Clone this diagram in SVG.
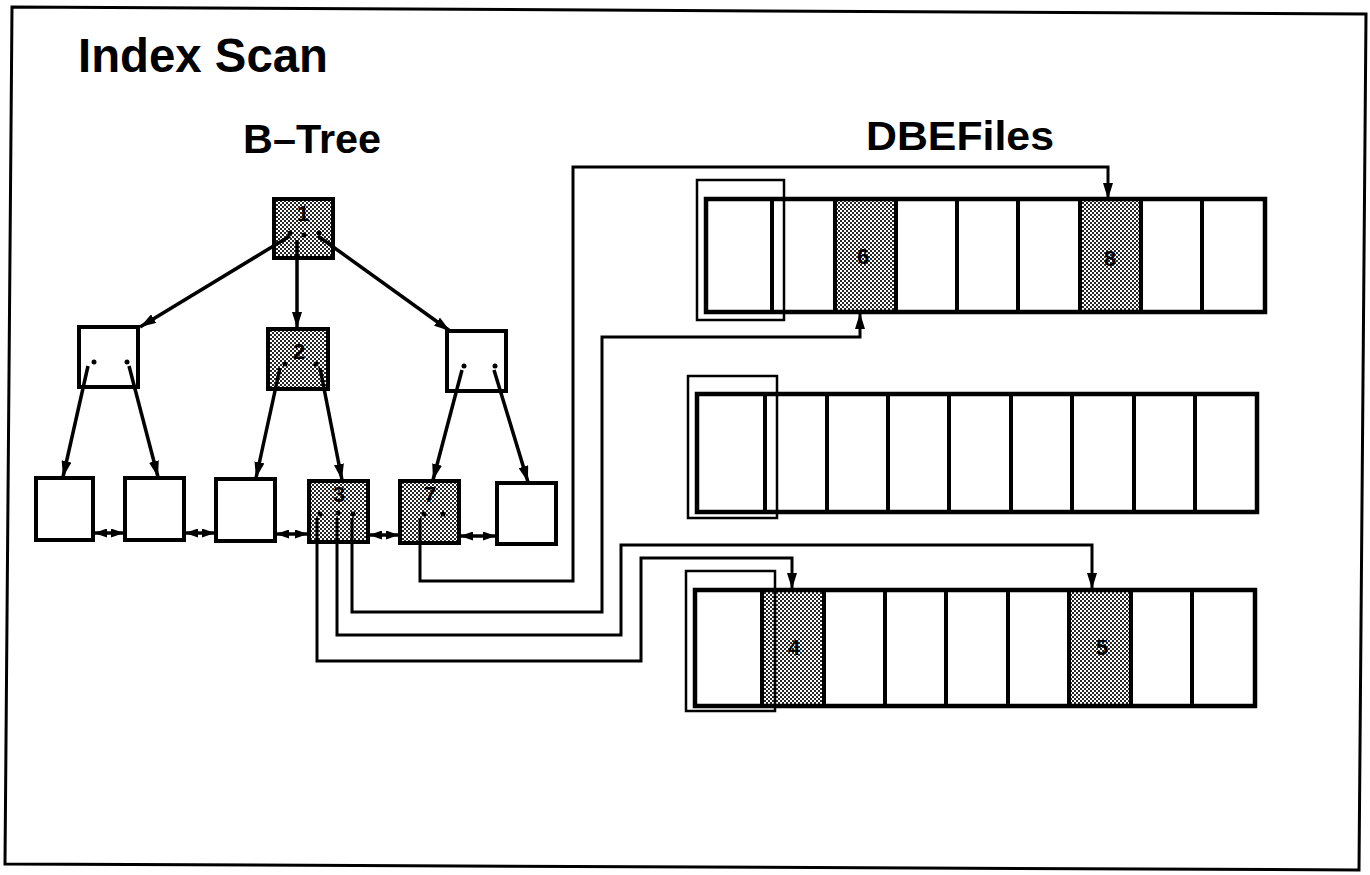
<svg xmlns="http://www.w3.org/2000/svg" width="1370" height="875" viewBox="0 0 1370 875">
<defs>
<pattern id="stip" width="4" height="4" patternUnits="userSpaceOnUse">
<rect width="4" height="4" fill="#ffffff"/>
<rect x="0" y="0" width="2" height="2" fill="#262626"/>
<rect x="2" y="2" width="2" height="2" fill="#262626"/>
</pattern>
<marker id="ah" viewBox="0 0 16 10" markerWidth="16" markerHeight="10" refX="16" refY="5" orient="auto-start-reverse" markerUnits="userSpaceOnUse">
<path d="M0,0 L16,5 L0,10 z" fill="#000"/>
</marker>
<marker id="ah2" viewBox="0 0 13 9" markerWidth="13" markerHeight="9" refX="13" refY="4.5" orient="auto-start-reverse" markerUnits="userSpaceOnUse">
<path d="M0,0 L13,4.5 L0,9 z" fill="#000"/>
</marker>
</defs>
<style>
.title{font-family:"Liberation Sans",Arial,sans-serif;font-weight:bold;fill:#000}
.lbl{font-family:"Liberation Sans",Arial,sans-serif;font-weight:bold;font-size:22px;fill:#000;text-anchor:middle}
.node{stroke:#000;stroke-width:4;fill:#fff}
.shade{fill:url(#stip)}
.thick{stroke:#000;stroke-width:4.5;fill:none}
.thin{stroke:#000;stroke-width:2.5;fill:none}
.div{stroke:#000;stroke-width:4}
.edge{stroke:#000;stroke-width:3.5;fill:none}
.wire{stroke:#000;stroke-width:3;fill:none}
.dot{fill:#000}
</style>
<rect width="1370" height="875" fill="#fff"/>
<polygon points="12,7 1366,14 1359,870 5,864" fill="none" stroke="#000" stroke-width="3"/>

<text class="title" x="78" y="72" font-size="48" textLength="250" lengthAdjust="spacingAndGlyphs">Index Scan</text>
<text class="title" x="243" y="153" font-size="40" textLength="138" lengthAdjust="spacingAndGlyphs">B–Tree</text>
<text class="title" x="866" y="150" font-size="40" textLength="188" lengthAdjust="spacingAndGlyphs">DBEFiles</text>

<g id="btree">
<g id="n1">
<rect class="node shade" x="274" y="199" width="59" height="59"/>
<text class="lbl" x="303" y="221">1</text>
<circle class="dot" cx="290" cy="233" r="2.5"/><circle class="dot" cx="304" cy="235" r="2.5"/><circle class="dot" cx="319" cy="233" r="2.5"/>
</g>
<g id="n2l">
<rect class="node" x="79" y="327" width="59" height="60"/>
<circle class="dot" cx="94" cy="362" r="2.5"/><circle class="dot" cx="127" cy="362" r="2.5"/>
</g>
<g id="n2">
<rect class="node shade" x="268" y="329" width="60" height="60"/>
<text class="lbl" x="299" y="359">2</text>
<circle class="dot" cx="285" cy="364" r="2.5"/><circle class="dot" cx="316" cy="364" r="2.5"/>
</g>
<g id="n2r">
<rect class="node" x="447" y="331" width="59" height="60"/>
<circle class="dot" cx="464" cy="366" r="2.5"/><circle class="dot" cx="495" cy="366" r="2.5"/>
</g>
<g id="leaf1"><rect class="node" x="36" y="478" width="57" height="62"/></g>
<g id="leaf2"><rect class="node" x="125" y="478" width="59" height="62"/></g>
<g id="leaf3"><rect class="node" x="216" y="479" width="59" height="62"/></g>
<g id="leaf4">
<rect class="node shade" x="309" y="481" width="59" height="61"/>
<text class="lbl" x="339" y="502">3</text>
<circle class="dot" cx="320" cy="514" r="2.5"/><circle class="dot" cx="338" cy="513" r="2.5"/><circle class="dot" cx="353" cy="514" r="2.5"/>
</g>
<g id="leaf5">
<rect class="node shade" x="400" y="481" width="59" height="62"/>
<text class="lbl" x="430" y="502">7</text>
<circle class="dot" cx="424" cy="514" r="2.5"/><circle class="dot" cx="443" cy="514" r="2.5"/>
</g>
<g id="leaf6"><rect class="node" x="497" y="483" width="59" height="61"/></g>
</g>

<g id="files">
<g id="file1">
<rect x="835" y="199" width="61" height="113" class="shade"/>
<rect x="1080" y="199" width="61" height="113" class="shade"/>
<rect class="thick" x="706" y="199" width="559" height="113"/>
<line class="div" x1="772" y1="199" x2="772" y2="312"/>
<line class="div" x1="835" y1="199" x2="835" y2="312"/>
<line class="div" x1="896" y1="199" x2="896" y2="312"/>
<line class="div" x1="957" y1="199" x2="957" y2="312"/>
<line class="div" x1="1018" y1="199" x2="1018" y2="312"/>
<line class="div" x1="1080" y1="199" x2="1080" y2="312"/>
<line class="div" x1="1141" y1="199" x2="1141" y2="312"/>
<line class="div" x1="1202" y1="199" x2="1202" y2="312"/>
<rect class="thin" x="697" y="180" width="87" height="140"/>
<text class="lbl" x="863" y="264">6</text>
<text class="lbl" x="1110" y="266">8</text>
</g>
<g id="file2">
<rect class="thick" x="697" y="394" width="560" height="118"/>
<line class="div" x1="765" y1="394" x2="765" y2="512"/>
<line class="div" x1="827" y1="394" x2="827" y2="512"/>
<line class="div" x1="888" y1="394" x2="888" y2="512"/>
<line class="div" x1="949" y1="394" x2="949" y2="512"/>
<line class="div" x1="1011" y1="394" x2="1011" y2="512"/>
<line class="div" x1="1072" y1="394" x2="1072" y2="512"/>
<line class="div" x1="1134" y1="394" x2="1134" y2="512"/>
<line class="div" x1="1195" y1="394" x2="1195" y2="512"/>
<rect class="thin" x="688" y="376" width="89" height="142"/>
</g>
<g id="file3">
<rect x="762" y="590" width="62" height="116" class="shade"/>
<rect x="1069" y="590" width="62" height="116" class="shade"/>
<rect class="thick" x="695" y="590" width="560" height="116"/>
<line class="div" x1="762" y1="590" x2="762" y2="706"/>
<line class="div" x1="824" y1="590" x2="824" y2="706"/>
<line class="div" x1="885" y1="590" x2="885" y2="706"/>
<line class="div" x1="946" y1="590" x2="946" y2="706"/>
<line class="div" x1="1008" y1="590" x2="1008" y2="706"/>
<line class="div" x1="1069" y1="590" x2="1069" y2="706"/>
<line class="div" x1="1131" y1="590" x2="1131" y2="706"/>
<line class="div" x1="1192" y1="590" x2="1192" y2="706"/>
<rect class="thin" x="686" y="571" width="89" height="140"/>
<text class="lbl" x="794" y="655">4</text>
<text class="lbl" x="1102" y="655">5</text>
</g>
</g>

<g id="connectors">
<line class="edge" x1="290" y1="236" x2="140" y2="327" marker-end="url(#ah)"/>
<line class="edge" x1="297" y1="240" x2="297" y2="328" marker-end="url(#ah)"/>
<line class="edge" x1="318" y1="236" x2="450" y2="331" marker-end="url(#ah)"/>
<line class="edge" x1="88" y1="366" x2="63" y2="477" marker-end="url(#ah)"/>
<line class="edge" x1="129" y1="366" x2="158" y2="477" marker-end="url(#ah)"/>
<line class="edge" x1="280" y1="368" x2="256" y2="478" marker-end="url(#ah)"/>
<line class="edge" x1="320" y1="368" x2="342" y2="480" marker-end="url(#ah)"/>
<line class="edge" x1="462" y1="370" x2="433" y2="480" marker-end="url(#ah)"/>
<line class="edge" x1="494" y1="370" x2="528" y2="482" marker-end="url(#ah)"/>
<line class="edge" x1="94" y1="533" x2="124" y2="533" marker-start="url(#ah2)" marker-end="url(#ah2)"/>
<line class="edge" x1="185" y1="533" x2="215" y2="533" marker-start="url(#ah2)" marker-end="url(#ah2)"/>
<line class="edge" x1="276" y1="534" x2="308" y2="534" marker-start="url(#ah2)" marker-end="url(#ah2)"/>
<line class="edge" x1="369" y1="535" x2="399" y2="535" marker-start="url(#ah2)" marker-end="url(#ah2)"/>
<line class="edge" x1="460" y1="536" x2="496" y2="536" marker-start="url(#ah2)" marker-end="url(#ah2)"/>
<polyline class="wire" points="420,518 420,581 573,581 573,167 1108,167 1108,199" marker-end="url(#ah)"/>
<polyline class="wire" points="352,518 352,612 602,612 602,337 860,337 860,313" marker-end="url(#ah)"/>
<polyline class="wire" points="337,518 337,635 621,635 621,545 1092,545 1092,589" marker-end="url(#ah)"/>
<polyline class="wire" points="317,518 317,661 641,661 641,558 792,558 792,589" marker-end="url(#ah)"/>
</g>
</svg>
